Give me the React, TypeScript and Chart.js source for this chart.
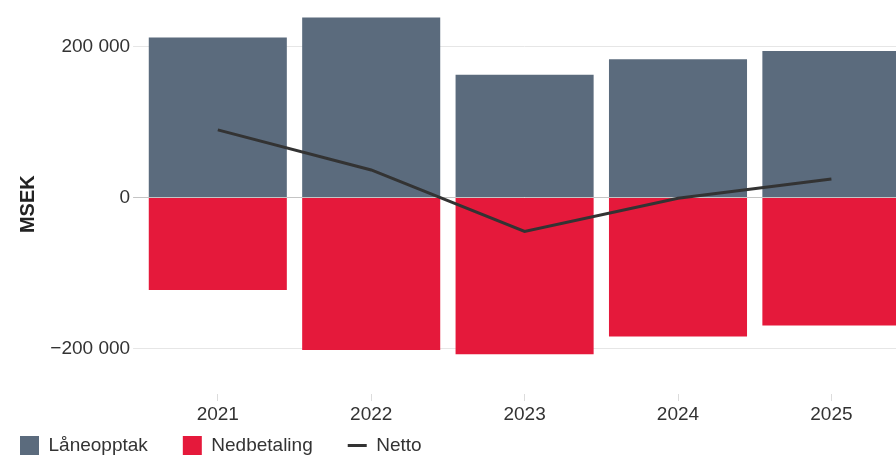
import React, { useEffect, useRef } from 'react';
import { Chart, registerables } from 'chart.js';

Chart.register(...registerables);

const categories = ['2021', '2022', '2023', '2024', '2025'];
const laneopptak = [212000, 238500, 162500, 183000, 194000];
const nedbetaling = [-122500, -202000, -207500, -184000, -169500];
const netto = [89500, 36500, -45000, -1000, 24500];
const yTicks = [-200000, 0, 200000];

const FONT = "'Liberation Sans', Arial, sans-serif";

function fmt(v: number): string {
  const abs = Math.abs(v);
  const s = String(abs).replace(/\B(?=(\d{3})+(?!\d))/g, ' ');
  return v < 0 ? '\u2212' + s : s;
}

export default function App() {
  const ref = useRef<HTMLCanvasElement>(null);
  useEffect(() => {
    const chart = new Chart(ref.current as HTMLCanvasElement, {
      type: 'bar',
      data: {
        labels: categories,
        datasets: [
          {
            type: 'bar',
            label: 'Låneopptak',
            data: laneopptak,
            backgroundColor: '#5b6b7d',
            borderWidth: 0,
            stack: 's',
            order: 1,
            pointStyle: 'rect',
          } as any,
          {
            type: 'bar',
            label: 'Nedbetaling',
            data: nedbetaling,
            backgroundColor: '#e5193b',
            borderWidth: 0,
            stack: 's',
            order: 1,
            pointStyle: 'rect',
          } as any,
          {
            type: 'line',
            label: 'Netto',
            data: netto,
            borderColor: '#333333',
            backgroundColor: '#333333',
            borderWidth: 3,
            pointRadius: 0,
            pointHoverRadius: 0,
            pointStyle: 'line',
            stack: 'n',
            order: 0,
            tension: 0,
          } as any,
        ],
      },
      options: {
        responsive: false,
        animation: false,
        layout: { padding: { left: -15, top: 12, right: 11.9, bottom: 0 } },
        datasets: { bar: { categoryPercentage: 1, barPercentage: 0.9 } } as any,
        scales: {
          x: {
            stacked: true,
            grid: { display: true, offset: false, drawOnChartArea: false, drawTicks: true, tickLength: 7, color: '#dcdcdc' },
            border: { display: false },
            ticks: { color: '#333', font: { family: FONT, size: 19 }, mirror: true, padding: -32.4, autoSkip: false, maxRotation: 0 },
            afterFit: (s: any) => { s.height = 7; },
          },
          y: {
            stacked: true,
            min: -260300,
            max: 242500,
            afterBuildTicks: (s: any) => { s.ticks = yTicks.map((v) => ({ value: v })); },
            grid: {
              color: (ctx: any) => (ctx.tick && ctx.tick.value === 0 ? '#c4c4c4' : '#e6e6e6'),
              tickLength: 8,
            },
            border: { display: false },
            ticks: { color: '#333', font: { family: FONT, size: 19 }, padding: 3, callback: (v: any) => fmt(Number(v)) },
            title: {
              display: true,
              text: 'MSEK',
              color: '#222',
              font: { family: FONT, size: 20, weight: 'bold' },
              padding: { top: 31.7, bottom: 0 },
            },
            afterFit: (s: any) => { s.width = 156.1; },
          },
        },
        plugins: {
          legend: {
            position: 'bottom',
            align: 'start',
            maxHeight: 60,
            labels: {
              usePointStyle: true,
              pointStyleWidth: 19,
              boxHeight: 19,
              boxWidth: 19,
              padding: 35,
              color: '#333',
              font: { family: FONT, size: 19 },
              sort: (a: any, b: any) => a.datasetIndex - b.datasetIndex,
            },
          },
          tooltip: { enabled: false },
        },
      } as any,
    });
    return () => chart.destroy();
  }, []);
  return (
    <div style={{ position: 'fixed', left: 0, top: 0, width: 896, height: 459, overflow: 'hidden', background: '#fff' }}>
      <canvas ref={ref} width={920} height={461} style={{ display: 'block' }} />
    </div>
  );
}
